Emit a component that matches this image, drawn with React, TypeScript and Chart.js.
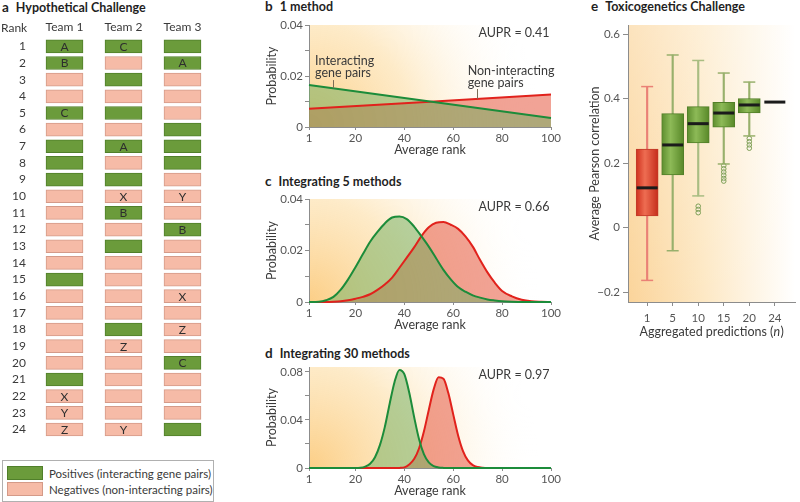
import React, { useEffect, useRef } from 'react';
import { Chart, registerables } from 'chart.js';

Chart.register(...registerables);

const FONT = 'Lato, "Open Sans", sans-serif';
const TEXT = '#3a3a3a';
const TICK = '#555555';
const AXIS = '#8c8c8c';

// ---------------- Panel a: Hypothetical Challenge ----------------
const rankLabels = ['1', '2', '3', '4', '5', '6', '7', '8', '9', '10', '11', '12', '13', '14', '15', '16', '17', '18', '19', '20', '21', '22', '23', '24'];
const teamNames = ['Team 1', 'Team 2', 'Team 3'];
const team1Positive = [1, 1, 0, 0, 1, 0, 1, 1, 1, 0, 0, 0, 0, 0, 1, 0, 0, 0, 0, 0, 1, 0, 0, 0];
const team2Positive = [1, 0, 1, 0, 1, 0, 1, 0, 1, 0, 1, 0, 1, 0, 0, 0, 0, 1, 0, 0, 0, 0, 0, 0];
const team3Positive = [1, 1, 0, 0, 0, 1, 1, 1, 0, 0, 0, 1, 0, 0, 0, 0, 0, 0, 0, 1, 0, 0, 0, 1];
const team1Tags = ['A', 'B', '', '', 'C', '', '', '', '', '', '', '', '', '', '', '', '', '', '', '', '', 'X', 'Y', 'Z'];
const team2Tags = ['C', '', '', '', '', '', 'A', '', '', 'X', 'B', '', '', '', '', '', '', '', 'Z', '', '', '', '', 'Y'];
const team3Tags = ['', 'A', '', '', '', '', '', '', '', 'Y', '', 'B', '', '', '', 'X', '', 'Z', '', 'C', '', '', '', ''];
const legendLabels = ['Positives (interacting gene pairs)', 'Negatives (non-interacting pairs)'];

// ---------------- Panels b-d: rank distributions ----------------
const rankTicks = [1, 20, 40, 60, 80, 100];
const probTicksBC = [0, 0.01, 0.02, 0.03, 0.04];
const probLabelsBC = ['0', '', '0.02', '', '0.04'];
const probTicksD = [0, 0.02, 0.04, 0.06, 0.08];
const probLabelsD = ['0', '', '0.04', '', '0.08'];
const auprLabels = ['AUPR = 0.41', 'AUPR = 0.66', 'AUPR = 0.97'];

const rankB = [1, 100];
const interactingB = [0.0165, 0.0035];
const nonInteractingB = [0.0072, 0.0127];

const rankC = [1, 5, 8, 11, 14, 17, 20, 23, 26, 29, 32, 35, 38, 41, 44, 47, 50, 53, 56, 59, 62, 65, 68, 71, 74, 77, 80, 84, 88, 92, 96, 100];
const interactingC = [0, 0.0001, 0.0007, 0.002, 0.0048, 0.0088, 0.0135, 0.0185, 0.0234, 0.0272, 0.0305, 0.0328, 0.0332, 0.0322, 0.0293, 0.0255, 0.0215, 0.017, 0.0125, 0.0088, 0.0058, 0.004, 0.0026, 0.0017, 0.001, 0.0006, 0.0003, 0.0001, 0, 0, 0, 0];
const nonInteractingC = [0, 0, 0, 0.0001, 0.0003, 0.0007, 0.0013, 0.002, 0.003, 0.0047, 0.0068, 0.0095, 0.0133, 0.0172, 0.0212, 0.0256, 0.029, 0.0308, 0.0311, 0.03, 0.0284, 0.0255, 0.0215, 0.0163, 0.0115, 0.0075, 0.0043, 0.0022, 0.0009, 0.0003, 0.0001, 0];

const rankD = [1, 20, 22, 24, 26, 28, 30, 32, 34, 36, 38, 40, 42, 44, 46, 48, 50, 52, 54, 56, 58, 60, 62, 64, 66, 68, 70, 72, 74, 100];
const interactingD = [0, 0, 0.0002, 0.0012, 0.0035, 0.009, 0.019, 0.034, 0.0535, 0.0716, 0.0816, 0.078, 0.0628, 0.0425, 0.0241, 0.0115, 0.0046, 0.0016, 0.0005, 0.0001, 0, 0, 0, 0, 0, 0, 0, 0, 0, 0];
const nonInteractingD = [0, 0, 0, 0, 0, 0, 0, 0, 0, 0, 0.0001, 0.0005, 0.0029, 0.0074, 0.0162, 0.0303, 0.0483, 0.0654, 0.0755, 0.0743, 0.0623, 0.0446, 0.0271, 0.0141, 0.0063, 0.0024, 0.0008, 0.0002, 0, 0];

// ---------------- Panel e: Toxicogenetics Challenge ----------------
const nLabels = ['1', '5', '10', '15', '20', '24'];
const whiskerLow = [-0.164, -0.072, 0.098, 0.197, 0.284, null];
const quartile1 = [0.036, 0.163, 0.262, 0.311, 0.355, null];
const medians = [0.123, 0.256, 0.322, 0.355, 0.38, 0.389];
const quartile3 = [0.243, 0.353, 0.375, 0.388, 0.4, null];
const whiskerHigh = [0.437, 0.535, 0.518, 0.479, 0.451, null];
const outlierGroup = [2, 2, 2, 3, 3, 3, 3, 3, 3, 4, 4, 4, 4];
const outlierValue = [0.066, 0.056, 0.046, 0.192, 0.182, 0.172, 0.162, 0.152, 0.144, 0.276, 0.266, 0.256, 0.246];
const corrTicks = [-0.2, 0, 0.2, 0.4, 0.6];
const corrLabels = ['\u22120.2', '0', '0.2', '0.4', '0.6'];

// ---------------- colours ----------------
const POS_FILL = '#6b9b3b';
const POS_EDGE = '#507f2a';
const NEG_FILL = '#f6bba7';
const NEG_EDGE = '#d49a88';
const GREEN_LINE = '#1c8c3a';
const RED_LINE = '#e1221c';
const GREEN_AREA = 'rgba(109,174,93,0.5)';
const RED_AREA = 'rgba(232,107,85,0.62)';

// ---------------- plugins ----------------
const tagsPlugin = {
  id: 'tags',
  afterDatasetsDraw(chart: any) {
    const { ctx, scales } = chart;
    const tags = [team1Tags, team2Tags, team3Tags];
    ctx.save();
    ctx.font = `12px ${FONT}`;
    ctx.fillStyle = '#2e2e2e';
    ctx.textAlign = 'center';
    ctx.textBaseline = 'middle';
    tags.forEach((col, ti) => {
      col.forEach((t, ri) => {
        if (t) ctx.fillText(t, scales.x.getPixelForValue(ti), scales.y.getPixelForValue(ri) + 0.5);
      });
    });
    ctx.textAlign = 'left';
    ctx.fillStyle = TEXT;
    ctx.fillText('Rank', 1, 28);
    ctx.restore();
  },
};

const radialGlow = {
  id: 'radialGlow',
  beforeDraw(chart: any) {
    const { ctx, chartArea: a } = chart;
    const r = (a.right - a.left) * 0.95;
    const g = ctx.createRadialGradient(a.left, a.bottom, 0, a.left, a.bottom, r);
    g.addColorStop(0, 'rgba(252,204,128,0.95)');
    g.addColorStop(0.45, 'rgba(253,228,182,0.75)');
    g.addColorStop(1, 'rgba(255,255,255,0)');
    ctx.save();
    ctx.fillStyle = g;
    ctx.fillRect(a.left, a.top, a.right - a.left, a.bottom - a.top);
    ctx.restore();
  },
};

const notesPlugin = {
  id: 'notes',
  afterDatasetsDraw(chart: any, _args: any, opts: any) {
    const { ctx, scales } = chart;
    ctx.save();
    ctx.font = `12.5px ${FONT}`;
    ctx.fillStyle = TEXT;
    ctx.textBaseline = 'middle';
    ctx.textAlign = 'left';
    (opts.items || []).forEach((n: any) => {
      ctx.fillText(n.text, scales.x.getPixelForValue(n.x), scales.y.getPixelForValue(n.y));
    });
    ctx.strokeStyle = '#7c6c55';
    ctx.lineWidth = 1;
    (opts.leaders || []).forEach((l: any) => {
      const x = Math.round(scales.x.getPixelForValue(l.x)) + 0.5;
      ctx.beginPath();
      ctx.moveTo(x, scales.y.getPixelForValue(l.y1));
      ctx.lineTo(x, scales.y.getPixelForValue(l.y2));
      ctx.stroke();
    });
    ctx.restore();
  },
};

const boxGlow = {
  id: 'boxGlow',
  beforeDraw(chart: any) {
    const { ctx, chartArea: a } = chart;
    ctx.save();
    const g = ctx.createLinearGradient(a.left, 0, a.right, 0);
    g.addColorStop(0, '#fbd49a');
    g.addColorStop(0.45, '#fde8c4');
    g.addColorStop(1, '#ffffff');
    ctx.fillStyle = g;
    ctx.fillRect(a.left, a.top, a.right - a.left, a.bottom - a.top);
    const v = ctx.createLinearGradient(0, a.top, 0, a.bottom);
    v.addColorStop(0, 'rgba(255,255,255,0.35)');
    v.addColorStop(1, 'rgba(255,255,255,0)');
    ctx.fillStyle = v;
    ctx.fillRect(a.left, a.top, a.right - a.left, a.bottom - a.top);
    ctx.restore();
  },
};

const whiskerColors = ['#ea8176', '#98b06c', '#a9bd82', '#98b06c', '#98b06c'];

const boxExtras = {
  id: 'boxExtras',
  afterDatasetsDraw(chart: any) {
    const { ctx, scales, chartArea } = chart;
    const x = scales.x;
    const y = scales.y;
    ctx.save();
    medians.forEach((m, i) => {
      const px = x.getPixelForValue(i);
      if (whiskerLow[i] !== null && whiskerHigh[i] !== null) {
        ctx.strokeStyle = whiskerColors[i];
        ctx.lineWidth = 1.5;
        [whiskerLow[i], whiskerHigh[i]].forEach((w) => {
          const py = y.getPixelForValue(w as number);
          ctx.beginPath();
          ctx.moveTo(px - 6, py);
          ctx.lineTo(px + 6, py);
          ctx.stroke();
        });
      }
      ctx.strokeStyle = '#1b1b1b';
      ctx.lineWidth = 3;
      const my = y.getPixelForValue(m);
      ctx.beginPath();
      ctx.moveTo(px - 10.5, my);
      ctx.lineTo(px + 10.5, my);
      ctx.stroke();
    });
    // x-axis title with italic n
    const cx = (chartArea.left + chartArea.right) / 2;
    const ty = chartArea.bottom + 30;
    const p1 = 'Aggregated predictions (';
    const p2 = 'n';
    const p3 = ')';
    ctx.fillStyle = TEXT;
    ctx.textBaseline = 'middle';
    ctx.textAlign = 'left';
    ctx.font = `12.5px ${FONT}`;
    const w1 = ctx.measureText(p1).width;
    const w3 = ctx.measureText(p3).width;
    ctx.font = `italic 12.5px ${FONT}`;
    const w2 = ctx.measureText(p2).width;
    let sx = cx - (w1 + w2 + w3) / 2;
    ctx.font = `12.5px ${FONT}`;
    ctx.fillText(p1, sx, ty);
    sx += w1;
    ctx.font = `italic 12.5px ${FONT}`;
    ctx.fillText(p2, sx, ty);
    sx += w2 + 0.5;
    ctx.font = `12.5px ${FONT}`;
    ctx.fillText(p3, sx, ty);
    ctx.restore();
  },
};

// ---------------- configs ----------------
const tickFont = { family: FONT, size: 11.5 };
const titleFont = { family: FONT, size: 12.5 };

function panelA(): any {
  const positives = [team1Positive, team2Positive, team3Positive];
  const hw = 0.3136;
  return {
    type: 'bar',
    data: {
      labels: rankLabels,
      datasets: teamNames.map((name, ti) => ({
        label: name,
        data: rankLabels.map(() => [ti - hw, ti + hw]),
        backgroundColor: positives[ti].map((p) => (p ? POS_FILL : NEG_FILL)),
        borderColor: positives[ti].map((p) => (p ? POS_EDGE : NEG_EDGE)),
        borderWidth: 1,
        borderSkipped: false,
        barThickness: 13,
        grouped: false,
      })),
    },
    options: {
      indexAxis: 'y',
      animation: false,
      responsive: false,
      layout: { padding: 0 },
      plugins: { legend: { display: false }, tooltip: { enabled: false } },
      scales: {
        x: {
          type: 'linear',
          position: 'top',
          min: -0.585,
          max: 2.975,
          grid: { display: false, drawTicks: false },
          border: { display: false },
          afterBuildTicks: (s: any) => {
            s.ticks = teamNames.map((_n, i) => ({ value: i }));
          },
          ticks: {
            callback: (_v: any, i: number) => teamNames[i],
            font: { family: FONT, size: 12 },
            color: TEXT,
            padding: 4,
            autoSkip: false,
            maxRotation: 0,
          },
          afterFit: (s: any) => {
            s.height = 38;
          },
        },
        y: {
          type: 'category',
          grid: { display: false, drawTicks: false },
          border: { display: false },
          ticks: { font: { family: FONT, size: 12 }, color: TEXT, padding: 4, autoSkip: false },
          afterFit: (s: any) => {
            s.width = 30;
          },
        },
      },
    },
    plugins: [tagsPlugin],
  };
}

function rankPanel(
  ranks: number[],
  green: number[],
  red: number[],
  yTicks: number[],
  yLabels: string[],
  yMax: number,
  padTop: number,
  notes: any
): any {
  return {
    type: 'line',
    data: {
      datasets: [
        {
          label: 'Interacting gene pairs',
          data: ranks.map((r, i) => ({ x: r, y: green[i] })),
          borderColor: GREEN_LINE,
          backgroundColor: GREEN_AREA,
          fill: 'origin',
          borderWidth: 2,
          pointRadius: 0,
          cubicInterpolationMode: 'monotone',
          clip: false,
        },
        {
          label: 'Non-interacting gene pairs',
          data: ranks.map((r, i) => ({ x: r, y: red[i] })),
          borderColor: RED_LINE,
          backgroundColor: RED_AREA,
          fill: 'origin',
          borderWidth: 2,
          pointRadius: 0,
          cubicInterpolationMode: 'monotone',
          clip: false,
        },
      ],
    },
    options: {
      animation: false,
      responsive: false,
      layout: { padding: { top: padTop, right: 14, left: 0, bottom: 0 } },
      plugins: {
        legend: { display: false },
        tooltip: { enabled: false },
        filler: { drawTime: 'beforeDatasetsDraw' },
        notes,
      },
      scales: {
        x: {
          type: 'linear',
          min: 1,
          max: 100,
          afterBuildTicks: (s: any) => {
            s.ticks = rankTicks.map((v) => ({ value: v }));
          },
          afterFit: (s: any) => {
            s.height = 33;
          },
          grid: { drawOnChartArea: false, drawTicks: true, tickLength: 3, color: AXIS },
          border: { display: true, color: AXIS },
          ticks: { font: tickFont, color: TICK, padding: 1, autoSkip: false, maxRotation: 0 },
          title: { display: true, text: 'Average rank', font: titleFont, color: TEXT, padding: { top: 0, bottom: 3 } },
        },
        y: {
          type: 'linear',
          min: 0,
          max: yMax,
          afterBuildTicks: (s: any) => {
            s.ticks = yTicks.map((v) => ({ value: v }));
          },
          afterFit: (s: any) => {
            s.width = 69;
          },
          grid: { drawOnChartArea: false, drawTicks: true, tickLength: 4, color: AXIS },
          border: { display: true, color: AXIS },
          ticks: { font: tickFont, color: TICK, padding: 2, callback: (_v: any, i: number) => yLabels[i] },
          title: { display: true, text: 'Probability', font: titleFont, color: TEXT, padding: { top: 24.5, bottom: 0 } },
        },
      },
    },
    plugins: [radialGlow, notesPlugin],
  };
}

function panelE(): any {
  const whiskerData: any[] = [];
  const boxData: any[] = [];
  medians.forEach((_m, i) => {
    if (whiskerLow[i] !== null) whiskerData.push({ x: i, y: [whiskerLow[i], whiskerHigh[i]] });
    if (quartile1[i] !== null) boxData.push({ x: i, y: [quartile1[i], quartile3[i]] });
  });
  const boxFill = (c: any) => {
    const raw = c.raw;
    const isRed = raw && raw.x === 0;
    const stops = isRed ? ['#cf311e', '#ee6d52', '#c52d1b'] : ['#5d8d2e', '#8dba57', '#588828'];
    if (!raw || !c.chart.chartArea) return stops[0];
    const px = c.chart.scales.x.getPixelForValue(raw.x);
    const g = c.chart.ctx.createLinearGradient(px - 11, 0, px + 11, 0);
    g.addColorStop(0, stops[0]);
    g.addColorStop(0.4, stops[1]);
    g.addColorStop(1, stops[2]);
    return g;
  };
  return {
    type: 'bar',
    data: {
      datasets: [
        {
          type: 'scatter',
          label: 'Outliers',
          data: outlierGroup.map((gIdx, k) => ({ x: gIdx, y: outlierValue[k] })),
          pointStyle: 'circle',
          pointRadius: 2.3,
          borderColor: '#7f9f55',
          backgroundColor: 'rgba(255,255,255,0.25)',
          borderWidth: 1,
          order: 1,
        },
        {
          type: 'bar',
          label: 'Interquartile range',
          data: boxData,
          backgroundColor: boxFill,
          borderColor: boxData.map((d) => (d.x === 0 ? '#c23a28' : '#527f28')),
          borderWidth: 1,
          borderSkipped: false,
          barThickness: 22,
          grouped: false,
          order: 2,
        },
        {
          type: 'bar',
          label: 'Whiskers',
          data: whiskerData,
          backgroundColor: whiskerColors,
          borderWidth: 0,
          barThickness: 1.5,
          grouped: false,
          order: 3,
        },
      ],
    },
    options: {
      animation: false,
      responsive: false,
      layout: { padding: { top: 25, right: 0, left: 0, bottom: 0 } },
      plugins: { legend: { display: false }, tooltip: { enabled: false } },
      scales: {
        x: {
          type: 'linear',
          offset: false,
          min: -0.75,
          max: 5.79,
          afterBuildTicks: (s: any) => {
            s.ticks = nLabels.map((_l, i) => ({ value: i }));
          },
          afterFit: (s: any) => {
            s.height = 43;
          },
          grid: { offset: false, drawOnChartArea: false, drawTicks: true, tickLength: 4, color: AXIS },
          border: { display: true, color: AXIS },
          ticks: { font: tickFont, color: TICK, padding: 5, autoSkip: false, maxRotation: 0, callback: (_v: any, i: number) => nLabels[i] },
        },
        y: {
          type: 'linear',
          min: -0.231,
          max: 0.628,
          afterBuildTicks: (s: any) => {
            s.ticks = corrTicks.map((v) => ({ value: v }));
          },
          afterFit: (s: any) => {
            s.width = 63;
          },
          grid: { drawOnChartArea: false, drawTicks: true, tickLength: 5, color: AXIS },
          border: { display: true, color: AXIS },
          ticks: { font: tickFont, color: TICK, padding: 3, callback: (_v: any, i: number) => corrLabels[i] },
          title: { display: true, text: 'Average Pearson correlation', font: titleFont, color: TEXT, padding: { top: 22.5, bottom: 0 } },
        },
      },
    },
    plugins: [boxGlow, boxExtras],
  };
}

// ---------------- components ----------------
function ChartCanvas({ left, top, width, height, make }: { left: number; top: number; width: number; height: number; make: () => any }) {
  const ref = useRef<HTMLCanvasElement | null>(null);
  useEffect(() => {
    if (!ref.current) return;
    const chart = new Chart(ref.current, make());
    return () => chart.destroy();
  }, []);
  return <canvas ref={ref} width={width} height={height} style={{ position: 'absolute', left, top, width, height }} />;
}

function PanelTitle({ left, top, letter, text }: { left: number; top: number; letter: string; text: string }) {
  return (
    <div style={{ position: 'absolute', left, top, fontFamily: FONT, fontWeight: 700, fontSize: 12.5, lineHeight: '14px', color: '#1f1f1f', whiteSpace: 'nowrap' }}>
      <span style={{ fontSize: 13.5, marginRight: 7 }}>{letter}</span>
      {text}
    </div>
  );
}

export default function App() {
  const bNotes = {
    items: [
      { text: 'Interacting', x: 3.5, y: 0.0259 },
      { text: 'gene pairs', x: 3.5, y: 0.0213 },
      { text: 'Non-interacting', x: 65.9, y: 0.022 },
      { text: 'gene pairs', x: 65.9, y: 0.0171 },
      { text: auprLabels[0], x: 70.3, y: 0.0367 },
    ],
    leaders: [
      { x: 10.9, y1: 0.0184, y2: 0.0152 },
      { x: 69.9, y1: 0.0149, y2: 0.011 },
    ],
  };
  const cNotes = { items: [{ text: auprLabels[1], x: 70.3, y: 0.0368 }], leaders: [] };
  const dNotes = { items: [{ text: auprLabels[2], x: 70.3, y: 0.0773 }], leaders: [] };

  return (
    <div style={{ position: 'absolute', left: 0, top: 0, width: 800, height: 502, background: '#ffffff', overflow: 'hidden' }}>
      <PanelTitle left={2} top={0} letter="a" text="Hypothetical Challenge" />
      <PanelTitle left={265} top={-1} letter="b" text="1 method" />
      <PanelTitle left={265} top={174} letter="c" text="Integrating 5 methods" />
      <PanelTitle left={265} top={346} letter="d" text="Integrating 30 methods" />
      <PanelTitle left={591} top={-1} letter="e" text="Toxicogenetics Challenge" />

      <ChartCanvas left={0} top={0} width={240} height={449} make={panelA} />
      <ChartCanvas left={240} top={0} width={325} height={160} make={() => rankPanel(rankB, interactingB, nonInteractingB, probTicksBC, probLabelsBC, 0.04, 25, bNotes)} />
      <ChartCanvas left={240} top={170} width={325} height={165} make={() => rankPanel(rankC, interactingC, nonInteractingC, probTicksBC, probLabelsBC, 0.04, 29, cNotes)} />
      <ChartCanvas left={240} top={340} width={325} height={161} make={() => rankPanel(rankD, interactingD, nonInteractingD, probTicksD, probLabelsD, 0.084, 27, dNotes)} />
      <ChartCanvas left={565} top={0} width={235} height={345} make={panelE} />

      <div style={{ position: 'absolute', left: 2, top: 460, width: 210, height: 40, border: '1px solid #b0b0b0', fontFamily: FONT, fontSize: 11.5, color: TEXT }}>
        {legendLabels.map((label, i) => (
          <div key={label} style={{ position: 'absolute', left: 4, top: 5 + i * 16, height: 14, display: 'flex', alignItems: 'center', whiteSpace: 'nowrap' }}>
            <span style={{ display: 'inline-block', width: 34, height: 12, background: i === 0 ? POS_FILL : NEG_FILL, border: `1px solid ${i === 0 ? POS_EDGE : NEG_EDGE}`, marginRight: 6 }} />
            {label}
          </div>
        ))}
      </div>
    </div>
  );
}
